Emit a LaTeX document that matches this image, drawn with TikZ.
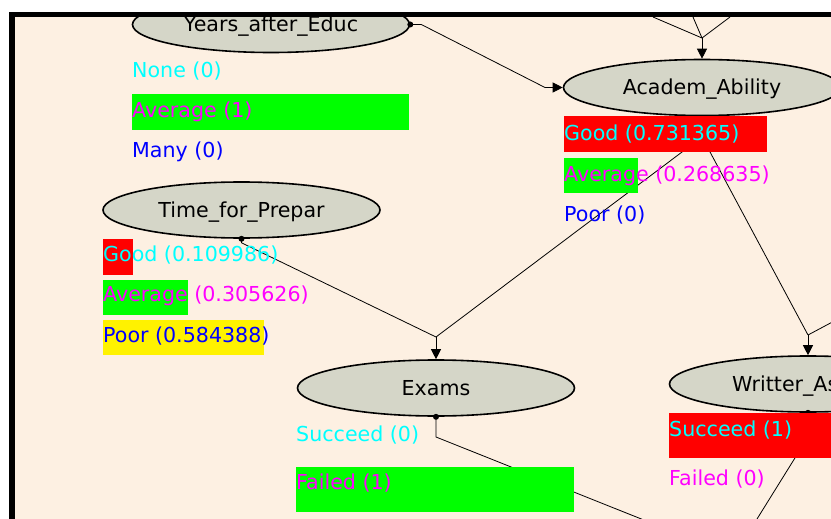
\documentclass[tikz,border=0pt]{standalone}
\usepackage{fontspec}
\setmainfont{DejaVu Sans}
\usetikzlibrary{shapes.geometric,arrows.meta}

\definecolor{paper}{RGB}{253,240,226}
\definecolor{nodegray}{RGB}{213,214,200}
\definecolor{pcyan}{RGB}{0,255,255}
\definecolor{pmagenta}{RGB}{255,0,255}
\definecolor{pblue}{RGB}{0,0,255}

\begin{document}
\begin{tikzpicture}[x=1pt,y=-1pt,
  every node/.style={font=\fontsize{20.6}{24}\selectfont},
  bnode/.style={ellipse,draw=black,line width=1.6pt,fill=nodegray,
    minimum width=277pt,minimum height=56pt,inner sep=0pt,
    text height=15pt,text depth=0pt},
  state/.style={anchor=west,inner sep=0pt,text height=15pt,text depth=0pt},
  link/.style={line width=.8pt},
  arc/.style={line width=.8pt,-{Triangle[width=10pt,length=10pt]}},
  dot/.style={fill=black}]
\useasboundingbox (0,0) rectangle (831,519);
\fill[white] (0,0) rectangle (831,519);

\begin{scope}
\clip (15,17) rectangle (831,519);
\fill[paper] (15,17) rectangle (831,519);

% network nodes
\node[bnode] (years) at (271,24.5) {Years\_after\_Educ};
\node[bnode] (academ) at (702,87.5) {Academ\_Ability};
\node[bnode] (time) at (241.5,210) {Time\_for\_Prepar};
\node[bnode] (exams) at (436,388) {Exams};
\node[bnode] (writter) at (808,384) {};
\node[state] (wlabel) at (732,384) {Writter\_As};

% bend points
\coordinate (up1) at (653,17);
\coordinate (up2) at (693,17);
\coordinate (up3) at (730,17);
\coordinate (atop) at (702,38);
\coordinate (ain) at (545,87.5);
\coordinate (aout) at (702,137);
\coordinate (ein) at (436,337);
\coordinate (win) at (808,335);
\coordinate (right1) at (850,312.6);
\coordinate (eout) at (436,437);
\coordinate (wout) at (808,437);
\coordinate (below) at (734,556);

% links
\draw[arc] (years.east) -- ++(11,0) -- (ain) -- (academ.west);
\draw[link] (up1) -- (atop);
\draw[link] (up2) -- (atop);
\draw[link] (up3) -- (atop);
\draw[arc] (atop) -- (academ.north);
\draw[link] (academ.south) -- (aout);
\draw[link] (aout) -- (ein);
\draw[link] (time.south) -- ++(0,4) -- (ein);
\draw[arc] (ein) -- (exams.north);
\draw[link] (aout) -- (win);
\draw[link] (right1) -- (win);
\draw[arc] (win) -- (writter.north);
\draw[link] (exams.south) -- (eout) -- (below);
\draw[link] (writter.south) -- (wout) -- (below);
\fill[dot] (years.east) circle[radius=3pt];
\fill[dot] (time.south) circle[radius=3pt];
\fill[dot] (exams.south) circle[radius=3pt];
\fill[dot] (writter.south) circle[radius=3pt];

% belief bars
\fill[green] (132,94) rectangle (409,130);
\fill[red] (564,116) rectangle (767,152);
\fill[green] (564,158) rectangle (638,193);
\fill[red] (103,239) rectangle (133,275);
\fill[green] (103,280) rectangle (188,315);
\fill[yellow] (103,320) rectangle (264,355);
\fill[green] (296,467) rectangle (574,512);
\fill[red] (669,413) rectangle (840,458);

% states
\node[state,pcyan] (ynone) at (132,70.5) {None (0)};
\node[state,pmagenta] (yavg) at (132,110) {Average (1)};
\node[state,pblue] (ymany) at (132,150) {Many (0)};
\node[state,pcyan] (agood) at (564,133) {Good (0.731365)};
\node[state,pmagenta] (aavg) at (564,174) {Average (0.268635)};
\node[state,pblue] (apoor) at (564,213.5) {Poor (0)};
\node[state,pcyan] (tgood) at (103,253.5) {Good (0.109986)};
\node[state,pmagenta] (tavg) at (103,294) {Average (0.305626)};
\node[state,pblue] (tpoor) at (103,335) {Poor (0.584388)};
\node[state,pcyan] (esucc) at (296,433.5) {Succeed (0)};
\node[state,pmagenta] (efail) at (296,482) {Failed (1)};
\node[state,pcyan] (wsucc) at (669,428.5) {Succeed (1)};
\node[state,pmagenta] (wfail) at (669,477.5) {Failed (0)};
\end{scope}

% window frame
\fill[black] (9,12) rectangle (831,17.5);
\fill[black] (9,12) rectangle (15,519);
\end{tikzpicture}
\end{document}
